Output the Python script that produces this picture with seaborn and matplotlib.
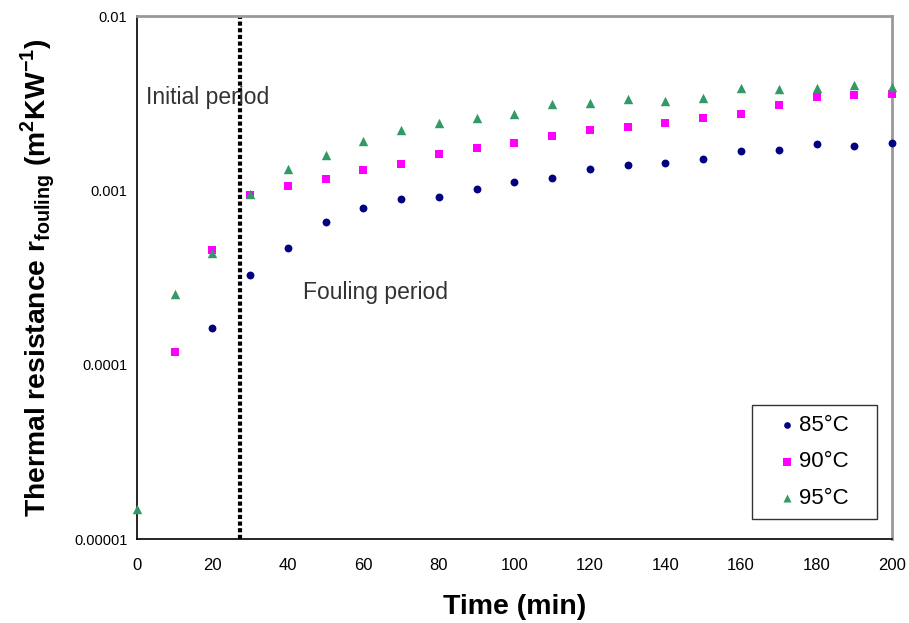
import numpy as np
import pandas as pd
import matplotlib
matplotlib.use("Agg")
import matplotlib.pyplot as plt
import matplotlib.ticker as mticker
import seaborn as sns

# time (min) and fouling resistance (m2 K/W) per temperature
t_85 = [20, 30, 40, 50, 60, 70, 80, 90, 100, 110, 120, 130, 140, 150, 160, 170, 180, 190, 200]
r_85 = [1.62e-4, 3.25e-4, 4.65e-4, 6.6e-4, 7.92e-4, 8.96e-4, 9.15e-4, 1.02e-3, 1.11e-3, 1.17e-3,
        1.32e-3, 1.40e-3, 1.44e-3, 1.51e-3, 1.69e-3, 1.71e-3, 1.85e-3, 1.80e-3, 1.88e-3]

t_90 = [10, 20, 30, 40, 50, 60, 70, 80, 90, 100, 110, 120, 130, 140, 150, 160, 170, 180, 190, 200]
r_90 = [1.18e-4, 4.53e-4, 9.4e-4, 1.06e-3, 1.16e-3, 1.30e-3, 1.42e-3, 1.61e-3, 1.75e-3, 1.88e-3,
        2.05e-3, 2.21e-3, 2.30e-3, 2.43e-3, 2.60e-3, 2.73e-3, 3.08e-3, 3.42e-3, 3.52e-3, 3.56e-3]

t_95 = [0, 10, 20, 30, 40, 50, 60, 70, 80, 90, 100, 110, 120, 130, 140, 150, 160, 170, 180, 190, 200]
r_95 = [1.48e-5, 2.53e-4, 4.39e-4, 9.5e-4, 1.33e-3, 1.59e-3, 1.92e-3, 2.22e-3, 2.44e-3, 2.60e-3, 2.73e-3,
        3.11e-3, 3.19e-3, 3.36e-3, 3.25e-3, 3.39e-3, 3.88e-3, 3.80e-3, 3.88e-3, 4.04e-3, 3.92e-3]

series = ["85°C", "90°C", "95°C"]
y_ticks = [1e-5, 1e-4, 1e-3, 1e-2]
y_tick_labels = ["0.00001", "0.0001", "0.001", "0.01"]
x_ticks = list(range(0, 201, 20))

sns.set_style("white")
plt.rcParams["font.family"] = ["Liberation Sans", "DejaVu Sans"]
plt.rcParams["mathtext.fontset"] = "custom"
plt.rcParams["mathtext.rm"] = "Liberation Sans"
plt.rcParams["mathtext.bf"] = "Liberation Sans:bold"
for k in ["text.color", "axes.labelcolor", "xtick.color", "ytick.color"]:
    plt.rcParams[k] = "black"

fig = plt.figure(figsize=(9.09, 6.23), dpi=100)
ax = fig.add_axes([0.1507, 0.1348, 0.8306, 0.8395])

sns.scatterplot(x=t_85, y=r_85, color="#000080", marker="o", s=32, linewidth=0,
                label=series[0], ax=ax, zorder=3, clip_on=False)
sns.scatterplot(x=t_90, y=r_90, color="#FF00FF", marker="s", s=36, linewidth=0,
                label=series[1], ax=ax, zorder=3, clip_on=False)
sns.scatterplot(x=t_95, y=r_95, color="#339966", marker="^", s=46, linewidth=0,
                label=series[2], ax=ax, zorder=3, clip_on=False)

ax.set_yscale("log")
ax.set_xlim(0, 200)
ax.set_ylim(1e-5, 1e-2)
ax.yaxis.set_major_locator(mticker.FixedLocator(y_ticks))
ax.yaxis.set_major_formatter(mticker.FixedFormatter(y_tick_labels))
ax.yaxis.set_minor_locator(mticker.NullLocator())
ax.set_xticks(x_ticks)
ax.tick_params(axis="both", direction="in", length=5, width=1, colors="black")
ax.tick_params(axis="x", pad=14, labelsize=12)
ax.tick_params(axis="y", pad=7, labelsize=10.5)

for side in ["left", "bottom"]:
    ax.spines[side].set_color("black")
    ax.spines[side].set_linewidth(1.2)
for side in ["top", "right"]:
    ax.spines[side].set_color("#999999")
    ax.spines[side].set_linewidth(2)

ax.axvline(27.3, color="black", linewidth=3, linestyle=(0, (1, 0.6)), zorder=2)

ax.text(2.4, 3.4e-3, "Initial period", fontsize=16.5, color="#333333", va="center")
ax.text(43.9, 2.6e-4, "Fouling period", fontsize=16.5, color="#333333", va="center")

ax.set_xlabel("Time (min)", fontsize=20.5, fontweight="bold", labelpad=15)
ax.set_ylabel(r"Thermal resistance r$_{\mathbf{fouling}}$ (m$^{\mathbf{2}}$KW$^{\mathbf{-1}}$)",
              fontsize=20.3, fontweight="bold", labelpad=12)

handles, labels = ax.get_legend_handles_labels()
labels = [lab + "   " for lab in labels]
leg = ax.legend(handles, labels, loc="lower right", bbox_to_anchor=(0.980, 0.038),
                borderaxespad=0, fontsize=16, frameon=True, fancybox=False,
                edgecolor="black", markerscale=0.85, handlelength=2.26,
                handletextpad=-0.59, borderpad=0.45, labelspacing=0.71)
leg.get_frame().set_linewidth(1)

fig.savefig("out.png", dpi=100)
